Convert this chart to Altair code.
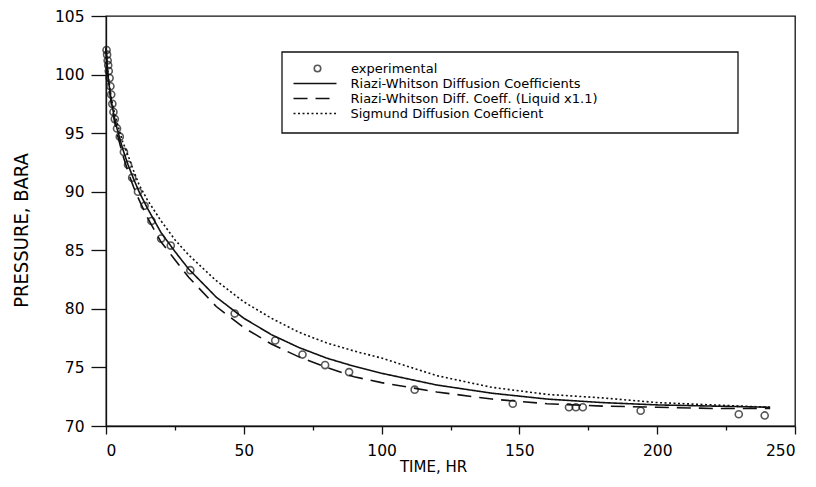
import altair as alt
import pandas as pd

# ---------------- data ----------------
S_EXP = "experimental"
S_RW = "Riazi-Whitson Diffusion Coefficients"
S_RW11 = "Riazi-Whitson Diff. Coeff. (Liquid x1.1)"
S_SIG = "Sigmund Diffusion Coefficient"

curve_t = [0, 0.5, 1, 2, 3, 4, 6, 8, 10, 12, 15, 20, 25, 30, 40, 50, 60, 70,
           80, 90, 100, 120, 140, 160, 180, 200, 220, 241]
rw_p = [102.3, 100.5, 99.3, 97.6, 96.4, 95.4, 93.7, 92.3, 91.1, 90.0, 88.6,
        86.5, 84.9, 83.4, 81.0, 79.2, 77.8, 76.7, 75.8, 75.1, 74.5, 73.5,
        72.8, 72.3, 72.0, 71.8, 71.7, 71.6]
rw11_p = [102.3, 100.4, 99.1, 97.4, 96.1, 95.0, 93.2, 91.7, 90.4, 89.3, 87.8,
          85.7, 84.2, 82.7, 80.2, 78.4, 77.0, 75.9, 75.0, 74.2, 73.7, 72.9,
          72.3, 71.9, 71.7, 71.6, 71.5, 71.5]
sig_p = [102.3, 100.6, 99.5, 97.9, 96.8, 95.9, 94.3, 93.1, 91.8, 90.6, 89.3,
         87.5, 85.9, 84.6, 82.4, 80.6, 79.2, 78.0, 77.1, 76.4, 75.8, 74.3,
         73.3, 72.7, 72.4, 72.0, 71.8, 71.6]

exp_t = [0.2, 0.4, 0.6, 0.8, 1.0, 1.3, 1.6, 1.9, 2.3, 2.7, 3.2, 4.0, 5.0, 6.5,
         8.0, 9.5, 11.6, 14.0, 16.5, 20.0, 23.5, 30.6, 46.7, 61.4, 71.3, 79.5,
         88.2, 112.0, 147.6, 168.0, 170.5, 173.0, 194.0, 229.6, 239.0]
exp_p = [102.1, 101.7, 101.2, 100.8, 100.3, 99.7, 99.0, 98.3, 97.5, 96.8, 96.2,
         95.4, 94.7, 93.4, 92.3, 91.2, 90.0, 88.8, 87.5, 86.0, 85.4, 83.3,
         79.6, 77.3, 76.1, 75.2, 74.6, 73.1, 71.9, 71.6, 71.6, 71.6, 71.3,
         71.0, 70.9]

x_ticks = list(range(0, 251, 25))
y_ticks = [70 + 2.5 * i for i in range(15)]

n = len(curve_t)
lines_df = pd.DataFrame({
    "t": curve_t * 3,
    "p": rw_p + rw11_p + sig_p,
    "series": [S_RW] * n + [S_RW11] * n + [S_SIG] * n,
})
pts_df = pd.DataFrame({"t": exp_t, "p": exp_p, "series": [S_EXP] * len(exp_t)})

FONT = "DejaVu Sans"
INK = "#111111"

x_enc = alt.X(
    "t:Q",
    scale=alt.Scale(domain=[0, 250], nice=False, zero=False),
    axis=alt.Axis(
        values=x_ticks,
        labelExpr="datum.value % 50 === 0 ? datum.label : ''",
        tickSize={"condition": {"test": "datum.value % 50 === 0", "value": 8}, "value": 4},
        labelPadding=9,
        title="TIME, HR",
        titleFont=FONT,
        titleFontSize=15,
        titleFontWeight="normal",
        titleX=327,
        titleY=40,
        titleBaseline="middle",
    ),
)
y_enc = alt.Y(
    "p:Q",
    scale=alt.Scale(domain=[70, 105], nice=False, zero=False),
    axis=alt.Axis(
        values=y_ticks,
        labelExpr="datum.value % 5 === 0 ? datum.label : ''",
        tickSize={"condition": {"test": "datum.value % 5 === 0", "value": 15}, "value": 7},
        labelPadding=7,
        title="PRESSURE, BARA",
        titleFont="DejaVu Sans Condensed, Liberation Sans Narrow, Liberation Sans, sans-serif",
        titleFontSize=20,
        titleFontWeight="normal",
        titleX=-85,
        titleY=214,
        titleAngle=270,
        titleBaseline="middle",
    ),
)

# legend line symbol: a path three units long each side, so its drawn length is
# 3 * sqrt(symbolSize) while the legend rows stay compact
lines = alt.Chart(lines_df).mark_line(color=INK, strokeWidth=1.6).encode(
    x=x_enc,
    y=y_enc,
    strokeDash=alt.StrokeDash(
        "series:N",
        scale=alt.Scale(domain=[S_RW, S_RW11, S_SIG], range=[[1, 0], [14, 8], [2, 2.5]]),
        legend=alt.Legend(
            orient="none", legendX=201, legendY=59.5, title=None, padding=0,
            symbolType="M-3,0H3", symbolSize=205, symbolStrokeWidth=1.5,
            symbolStrokeColor=INK, symbolFillColor="transparent",
            labelOffset=27.5, rowPadding=-0.2,
            labelFont=FONT, labelFontSize=13, labelColor="black", labelLimit=400,
        ),
    ),
    detail="series:N",
)

points = alt.Chart(pts_df).mark_point(
    shape="circle", filled=False, size=50, strokeWidth=1.6, color=INK
).encode(
    x="t:Q",
    y="p:Q",
    shape=alt.Shape(
        "series:N",
        scale=alt.Scale(domain=[S_EXP], range=["circle"]),
        legend=alt.Legend(
            orient="none", legendX=205, legendY=46, title=None, padding=0,
            symbolSize=42, symbolStrokeWidth=1.6, symbolStrokeColor=INK,
            labelOffset=27, labelFont=FONT, labelFontSize=13, labelColor="black",
        ),
    ),
)

box = alt.Chart(pd.DataFrame({"k": [0]})).mark_rect(
    fillOpacity=0, stroke=INK, strokeWidth=1.3
).encode(
    x=alt.value(176), x2=alt.value(632), y=alt.value(36), y2=alt.value(117)
)

chart = alt.layer(box, lines, points).properties(
    width=689,
    height=410,
    autosize=alt.AutoSizeParams(type="none"),
    padding={"left": 106, "top": 16, "right": 21, "bottom": 61},
    background="white",
).configure_view(
    stroke=INK, strokeWidth=1.3
).configure_axis(
    grid=False,
    domainColor=INK,
    domainWidth=1.3,
    tickColor=INK,
    tickWidth=1.3,
    labelColor="black",
    titleColor="black",
    labelFont=FONT,
    labelFontSize=15.5,
)

chart.save("out.html", embed_options={"renderer": "svg", "actions": False})
